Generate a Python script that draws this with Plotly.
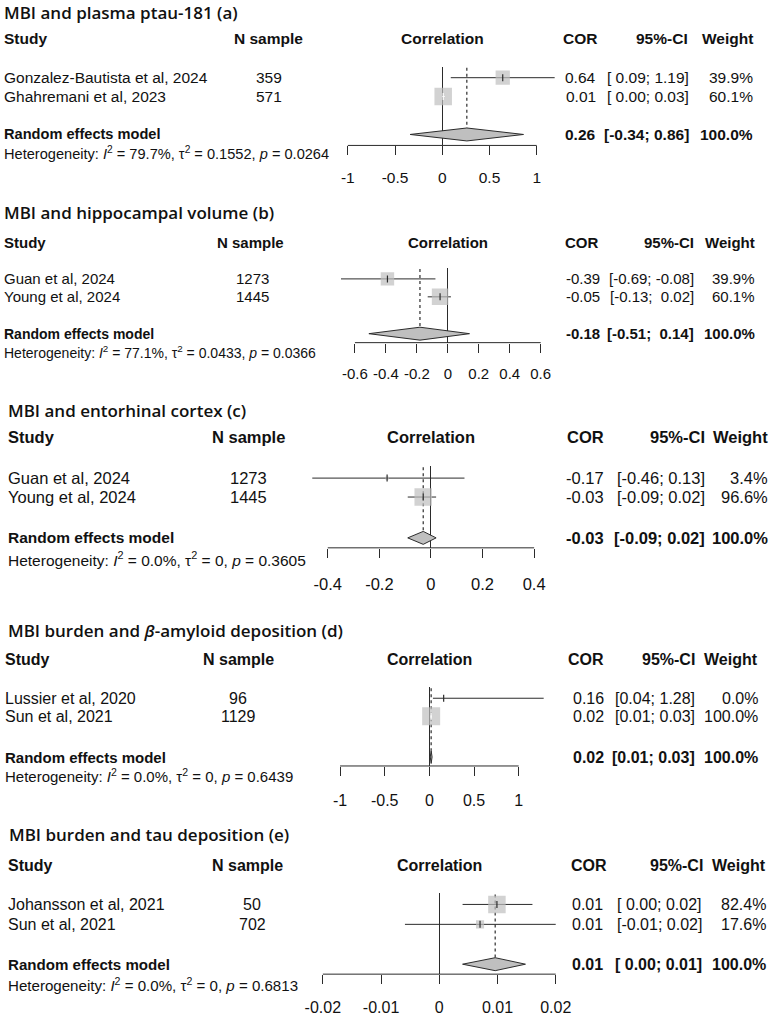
import math
import plotly.graph_objects as go

W, H = 779, 1016

# ---------------- data ----------------
a_title = "MBI and plasma ptau-181 (a)"
a_studies = ["Gonzalez-Bautista et al, 2024", "Ghahremani et al, 2023"]
a_n = [359, 571]
a_cor = [0.64, 0.01]
a_lo = [0.09, 0.00]
a_hi = [1.19, 0.03]
a_weight = [39.9, 60.1]
a_pooled = [0.26, -0.34, 0.86]
a_het = ["79.7%", "0.1552", "0.0264"]
a_ticks = [-1, -0.5, 0, 0.5, 1]

b_title = "MBI and hippocampal volume (b)"
b_studies = ["Guan et al, 2024", "Young et al, 2024"]
b_n = [1273, 1445]
b_cor = [-0.39, -0.05]
b_lo = [-0.69, -0.13]
b_hi = [-0.08, 0.02]
b_weight = [39.9, 60.1]
b_pooled = [-0.18, -0.51, 0.14]
b_het = ["77.1%", "0.0433", "0.0366"]
b_ticks = [-0.6, -0.4, -0.2, 0, 0.2, 0.4, 0.6]

c_title = "MBI and entorhinal cortex (c)"
c_studies = ["Guan et al, 2024", "Young et al, 2024"]
c_n = [1273, 1445]
c_cor = [-0.17, -0.03]
c_lo = [-0.46, -0.09]
c_hi = [0.13, 0.02]
c_weight = [3.4, 96.6]
c_pooled = [-0.03, -0.09, 0.02]
c_het = ["0.0%", "0", "0.3605"]
c_ticks = [-0.4, -0.2, 0, 0.2, 0.4]

d_title = "MBI burden and <i>β</i>-amyloid deposition (d)"
d_studies = ["Lussier et al, 2020", "Sun et al, 2021"]
d_n = [96, 1129]
d_cor = [0.16, 0.02]
d_lo = [0.04, 0.01]
d_hi = [1.28, 0.03]
d_weight = [0.0, 100.0]
d_pooled = [0.02, 0.01, 0.03]
d_het = ["0.0%", "0", "0.6439"]
d_ticks = [-1, -0.5, 0, 0.5, 1]

e_title = "MBI burden and tau deposition (e)"
e_studies = ["Johansson et al, 2021", "Sun et al, 2021"]
e_n = [50, 702]
e_cor = [0.0099, 0.007]
e_lo = [0.004, -0.0059]
e_hi = [0.016, 0.02]
e_weight = [82.4, 17.6]
e_pooled = [0.0096, 0.004, 0.0148]
e_het = ["0.0%", "0", "0.6813"]
e_ticks = [-0.02, -0.01, 0, 0.01, 0.02]

# ---------------- layout (pixel measurements) ----------------
panels = [
    dict(title=a_title, studies=a_studies, n=a_n, cor=a_cor, lo=a_lo, hi=a_hi, w=a_weight,
         pooled=a_pooled, het=a_het, ticks=a_ticks,
         fs=15.5, fs2=14.6, title_x=3, title_y=12.5, head_y=39, rows=[78, 97], re_y=135, het_y=154,
         axis_y=146, zero_top=67, study_x=3, n_head=271, n_x=271,
         cor_head=603, cor_x=602, ci_head=694, ci_x=695, w_head=760, w_x=760,
         zero_px=445.7, scale=95.2, sq=17.5, lab_off=29),
    dict(title=b_title, studies=b_studies, n=b_n, cor=b_cor, lo=b_lo, hi=b_hi, w=b_weight,
         pooled=b_pooled, het=b_het, ticks=b_ticks,
         fs=15, fs2=14.0, title_x=3, title_y=213, head_y=243, rows=[280, 298], re_y=335, het_y=353,
         axis_y=344, zero_top=269, study_x=3, n_head=252, n_x=254,
         cor_head=605, cor_x=605.5, ci_head=700, ci_x=700, w_head=761.5, w_x=761.5,
         zero_px=451.3, scale=156, sq=16.5, lab_off=28),
    dict(title=c_title, studies=c_studies, n=c_n, cor=c_cor, lo=c_lo, hi=c_hi, w=c_weight,
         pooled=c_pooled, het=c_het, ticks=c_ticks,
         fs=16.5, fs2=15.5, title_x=7, title_y=412, head_y=439, rows=[480, 499], re_y=540, het_y=561,
         axis_y=550, zero_top=468, study_x=7, n_head=250, n_x=250.5,
         cor_head=610, cor_x=610, ci_head=711, ci_x=711, w_head=775, w_x=775,
         zero_px=434.3, scale=260, sq=17.5, lab_off=32),
    dict(title=d_title, studies=d_studies, n=d_n, cor=d_cor, lo=d_lo, hi=d_hi, w=d_weight,
         pooled=d_pooled, het=d_het, ticks=d_ticks,
         fs=16, fs2=15.0, title_x=7, title_y=633, head_y=662, rows=[701, 719], re_y=760, het_y=779,
         axis_y=769, zero_top=690, study_x=4, n_head=240, n_x=240,
         cor_head=610, cor_x=610, ci_head=701, ci_x=701.5, w_head=765, w_x=765,
         zero_px=432.7, scale=90, sq=18, lab_off=31),
    dict(title=e_title, studies=e_studies, n=e_n, cor=e_cor, lo=e_lo, hi=e_hi, w=e_weight,
         pooled=e_pooled, het=e_het, ticks=e_ticks,
         fs=16, fs2=15.1, title_x=8, title_y=838, head_y=869, rows=[908, 928], re_y=968, het_y=988,
         axis_y=978, zero_top=897, study_x=7, n_head=249, n_x=254,
         cor_head=613, cor_x=608.5, ci_head=709, ci_x=708, w_head=773, w_x=773,
         zero_px=442.7, scale=5867, sq=17.5, lab_off=30),
]

FONT = "Liberation Sans"
TITLE_FONT = "Open Sans"
TXT = "#111111"
LINE = "#2b2b2b"
GRAY = "#bfbfbf"
DOM_L, DOM_R = 300, 570
TICKLEN = 9
DIA_H = 6.5


def py(v):
    return 1 - v / H


def fmt_col(vals):
    s = ["{:.2f}".format(v) for v in vals]
    m = max(len(t) for t in s)
    return [t.rjust(m) for t in s]


fig = go.Figure()
annotations = []
shapes = []


def txt(x, y, text, size, anchor="left", family=FONT, weight=None):
    f = dict(family=family, size=size, color=TXT)
    if weight:
        f["weight"] = weight
    annotations.append(dict(x=x / W, y=py(y), xref="paper", yref="paper",
                            text=text, showarrow=False, xanchor=anchor, yanchor="middle",
                            borderpad=0, font=f))


for k, p in enumerate(panels, start=1):
    xa = "x" if k == 1 else "x%d" % k
    ya = "y" if k == 1 else "y%d" % k
    xname = "xaxis" if k == 1 else "xaxis%d" % k
    yname = "yaxis" if k == 1 else "yaxis%d" % k
    fs = p["fs"]

    rng = [(DOM_L - p["zero_px"]) / p["scale"], (DOM_R - p["zero_px"]) / p["scale"]]
    fig.layout[xname] = dict(
        domain=[DOM_L / W, DOM_R / W], range=rng, anchor=ya,
        showgrid=False, showline=False, zeroline=True, zerolinecolor=LINE, zerolinewidth=1,
        tickmode="array", tickvals=p["ticks"], ticktext=["{:g}".format(t) for t in p["ticks"]],
        ticks="outside", ticklen=TICKLEN, tickwidth=1, tickcolor=LINE,
        tickfont=dict(family=FONT, size=fs, color=TXT),
        ticklabelstandoff=int(round(max(0, p["lab_off"] - TICKLEN - fs * 0.5 - 3))),
        fixedrange=True,
    )
    fig.layout[yname] = dict(
        domain=[py(p["axis_y"]), py(p["zero_top"])], range=[p["axis_y"], p["zero_top"]],
        visible=False, showgrid=False, zeroline=False, fixedrange=True,
    )
    # axis line spanning tick range
    shapes.append(dict(type="line", xref=xa, yref="paper", x0=p["ticks"][0], x1=p["ticks"][-1],
                       y0=py(p["axis_y"]), y1=py(p["axis_y"]), line=dict(color=LINE, width=1)))

    rows = p["rows"]
    # dotted line at pooled estimate
    fig.add_trace(go.Scatter(x=[p["pooled"][0], p["pooled"][0]], y=[p["zero_top"] + 1, p["re_y"] - DIA_H],
                             mode="lines", line=dict(color=LINE, width=1.2, dash="dot"),
                             xaxis=xa, yaxis=ya, hoverinfo="skip"))
    # CI lines
    cx, cy = [], []
    for lo, hi, r in zip(p["lo"], p["hi"], rows):
        cx += [lo, hi, None]
        cy += [r, r, None]
    fig.add_trace(go.Scatter(x=cx, y=cy, mode="lines", line=dict(color=LINE, width=1),
                             xaxis=xa, yaxis=ya, hoverinfo="skip"))
    # squares (side proportional to sqrt of weight)
    wmax = max(p["w"])
    sizes = [p["sq"] * math.sqrt(w / wmax) for w in p["w"]]
    fig.add_trace(go.Scatter(x=p["cor"], y=rows, mode="markers",
                             marker=dict(symbol="square", size=sizes, color=GRAY, line=dict(width=0)),
                             xaxis=xa, yaxis=ya, hoverinfo="skip"))
    # CI inside the square drawn white, otherwise dark estimate tick
    for c, lo, hi, r, s in zip(p["cor"], p["lo"], p["hi"], rows, sizes):
        inside = (hi - lo) * p["scale"] < s
        col = "white" if inside else LINE
        if inside:
            fig.add_trace(go.Scatter(x=[lo, hi], y=[r, r], mode="lines", line=dict(color=col, width=1),
                                     xaxis=xa, yaxis=ya, hoverinfo="skip"))
        fig.add_trace(go.Scatter(x=[c], y=[r], mode="markers",
                                 marker=dict(symbol="line-ns", size=5, line=dict(color=col, width=1.2)),
                                 xaxis=xa, yaxis=ya, hoverinfo="skip"))
    # diamond
    est, plo, phi = p["pooled"]
    ry = p["re_y"]
    fig.add_trace(go.Scatter(x=[plo, est, phi, est, plo], y=[ry, ry - DIA_H, ry, ry + DIA_H, ry],
                             mode="lines", fill="toself", fillcolor=GRAY,
                             line=dict(color=LINE, width=1), xaxis=xa, yaxis=ya, hoverinfo="skip"))

    # ---------- texts ----------
    txt(p["title_x"], p["title_y"], p["title"], 17, family=TITLE_FONT, weight=600)
    hy = p["head_y"]
    txt(p["study_x"], hy, "<b>Study</b>", fs)
    txt(p["n_head"], hy, "<b>N sample</b>", fs, anchor="center")
    mid_px = p["zero_px"] + (p["ticks"][0] + p["ticks"][-1]) / 2 * p["scale"]
    txt(mid_px, hy, "<b>Correlation</b>", fs, anchor="center")
    txt(p["cor_head"], hy, "<b>COR</b>", fs, anchor="right")
    txt(p["ci_head"], hy, "<b>95%-CI</b>", fs, anchor="right")
    txt(p["w_head"], hy, "<b>Weight</b>", fs, anchor="right")

    cors = fmt_col(list(p["cor"]) + [est])
    los = fmt_col(list(p["lo"]) + [plo])
    his = fmt_col(list(p["hi"]) + [phi])
    cis = ["[%s; %s]" % (l, h) for l, h in zip(los, his)]
    ws = ["{:.1f}%".format(w) for w in p["w"]] + ["100.0%"]

    for i, r in enumerate(rows):
        txt(p["study_x"], r, p["studies"][i], fs)
        txt(p["n_x"], r, str(p["n"][i]), fs, anchor="center")
        txt(p["cor_x"], r, cors[i], fs, anchor="right")
        txt(p["ci_x"], r, cis[i], fs, anchor="right")
        txt(p["w_x"], r, ws[i], fs, anchor="right")
    txt(p["study_x"], ry, "<b>Random effects model</b>", p["fs2"])
    txt(p["cor_x"], ry, "<b>%s</b>" % cors[-1], fs, anchor="right")
    txt(p["ci_x"], ry, "<b>%s</b>" % cis[-1], fs, anchor="right")
    txt(p["w_x"], ry, "<b>%s</b>" % ws[-1], fs, anchor="right")
    i2, t2, pv = p["het"]
    txt(p["study_x"], p["het_y"],
        "Heterogeneity: <i>I</i><sup>2</sup> = %s, τ<sup>2</sup> = %s, <i>p</i> = %s" % (i2, t2, pv),
        p["fs2"])

fig.update_layout(width=W, height=H, margin=dict(l=0, r=0, t=0, b=0),
                  paper_bgcolor="white", plot_bgcolor="rgba(0,0,0,0)", showlegend=False,
                  annotations=annotations, shapes=shapes)
fig.write_html("out.html")
